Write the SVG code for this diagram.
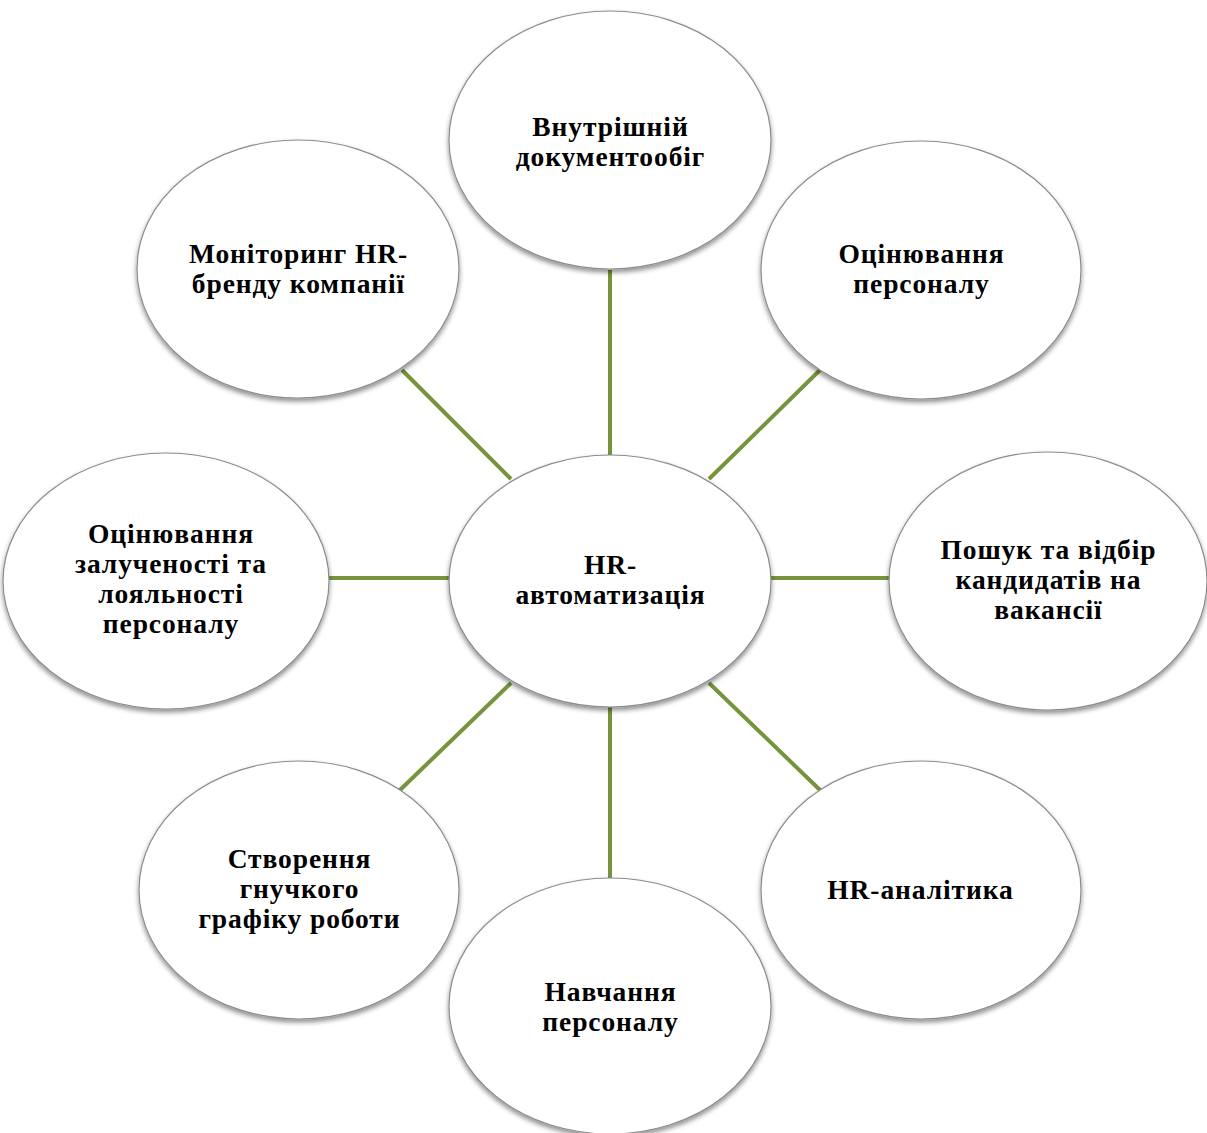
<svg xmlns="http://www.w3.org/2000/svg" width="1207" height="1133" viewBox="0 0 1207 1133">
<style>
.n ellipse{fill:#fff;stroke:#8c8c8c;stroke-width:1.2;filter:url(#sh)}
.n text{font-family:"Liberation Serif","Times New Roman",serif;font-weight:bold;font-size:27.5px;letter-spacing:0.9px;fill:#000;text-anchor:middle}
.c line{stroke:#77933c;stroke-width:4}
</style>
<defs>
<filter id="sh" x="-10%" y="-10%" width="120%" height="125%">
<feGaussianBlur in="SourceAlpha" stdDeviation="2.5"/>
<feOffset dx="0" dy="3" result="b"/>
<feComponentTransfer><feFuncA type="linear" slope="0.45"/></feComponentTransfer>
<feMerge><feMergeNode/><feMergeNode in="SourceGraphic"/></feMerge>
</filter>
</defs>
<rect width="1207" height="1133" fill="#fff"/>
<g class="c">
<line x1="610" y1="270" x2="610" y2="455"/>
<line x1="709" y1="479" x2="820" y2="370"/>
<line x1="402" y1="370" x2="511" y2="479"/>
<line x1="329" y1="578" x2="450" y2="578"/>
<line x1="770" y1="578" x2="890" y2="578"/>
<line x1="511" y1="683" x2="400" y2="790"/>
<line x1="610" y1="705" x2="610" y2="880"/>
<line x1="709" y1="683" x2="820" y2="790"/>
</g>
<g class="n" id="center"><ellipse cx="610" cy="581" rx="161" ry="126"/><text x="610.5" y="574">HR-</text><text x="610.5" y="604">автоматизація</text></g>
<g class="n" id="top"><ellipse cx="610" cy="140" rx="161" ry="129"/><text x="610.5" y="136">Внутрішній</text><text x="610.5" y="166">документообіг</text></g>
<g class="n" id="tr"><ellipse cx="921" cy="270" rx="160" ry="129"/><text x="921.5" y="263">Оцінювання</text><text x="921.5" y="293">персоналу</text></g>
<g class="n" id="right"><ellipse cx="1048" cy="581" rx="159" ry="129"/><text x="1048.5" y="559">Пошук та відбір</text><text x="1048.5" y="589">кандидатів на</text><text x="1048.5" y="619">вакансії</text></g>
<g class="n" id="br"><ellipse cx="921" cy="890" rx="160" ry="129"/><text x="920.5" y="899">HR-аналітика</text></g>
<g class="n" id="bottom"><ellipse cx="610" cy="1006" rx="161" ry="128"/><text x="610.5" y="1001">Навчання</text><text x="610.5" y="1031">персоналу</text></g>
<g class="n" id="bl"><ellipse cx="299" cy="890" rx="160" ry="129"/><text x="299.5" y="868">Створення</text><text x="299.5" y="898">гнучкого</text><text x="299.5" y="928">графіку роботи</text></g>
<g class="n" id="left"><ellipse cx="166" cy="581" rx="163" ry="128"/><text x="171" y="543">Оцінювання</text><text x="171" y="573">залученості та</text><text x="171" y="603">лояльності</text><text x="171" y="633">персоналу</text></g>
<g class="n" id="tl"><ellipse cx="298" cy="269" rx="161" ry="129"/><text x="298.5" y="263">Моніторинг HR-</text><text x="298.5" y="293">бренду компанії</text></g>
</svg>
